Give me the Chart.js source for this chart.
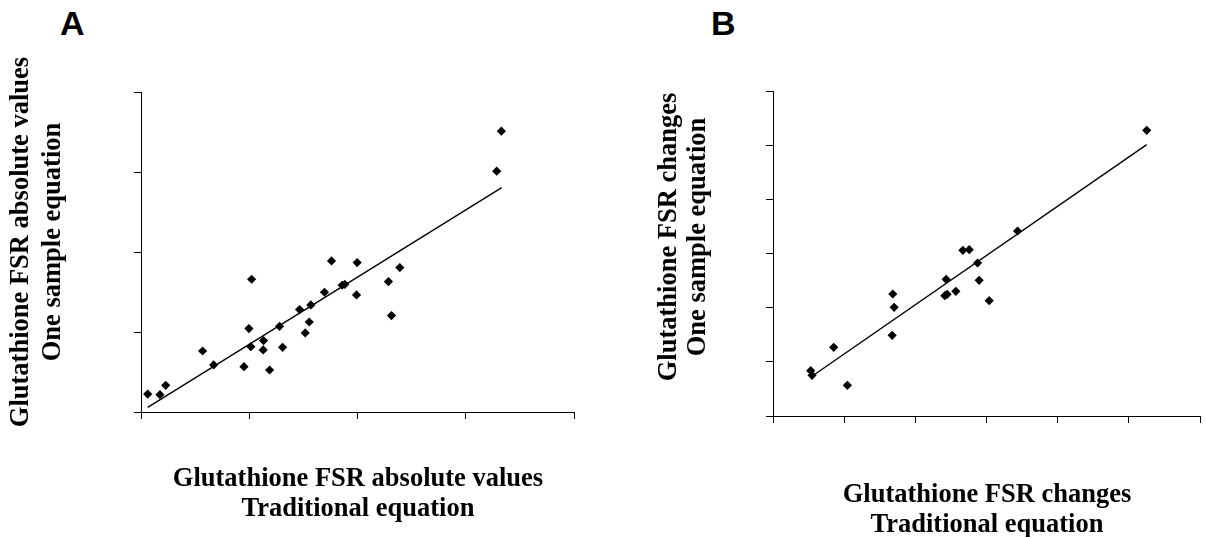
<!DOCTYPE html>
<html>
<head>
<meta charset="utf-8">
<script src="https://cdn.jsdelivr.net/npm/chart.js@4/dist/chart.umd.min.js"></script>
<style>
  body { margin: 0; background: #fff; width: 1206px; height: 537px; position: relative; overflow: hidden; }
  canvas { position: absolute; top: 0; }
  .panel { position: absolute; font-family: "Liberation Sans", Arial, sans-serif; font-weight: bold; font-size: 34px; line-height: 34px; color: #000; }
  .title { position: absolute; font-family: "Liberation Serif", "Times New Roman", serif; font-weight: bold; font-size: 26.5px; color: #000; text-align: center; white-space: nowrap; }
  .ytitle { transform: rotate(-90deg); }
</style>
</head>
<body>
<div class="panel" style="left:60px; top:6px;">A</div>
<div class="panel" style="left:711px; top:6px;">B</div>

<canvas id="chartA" width="600" height="537" style="left:0;"></canvas>
<canvas id="chartB" width="606" height="537" style="left:600px;"></canvas>

<div class="title" style="left:158px; top:463px; width:400px; line-height:29.5px;">Glutathione FSR absolute values<br>Traditional equation</div>
<div class="title ytitle" style="left:-175px; top:210px; width:420px; height:64px; line-height:32px;">Glutathione FSR absolute values<br>One sample equation</div>

<div class="title" style="left:787px; top:478px; width:400px; line-height:30px;">Glutathione FSR changes<br>Traditional equation</div>
<div class="title ytitle" style="left:482px; top:208px; width:400px; height:58px; line-height:29px;">Glutathione FSR changes<br>One sample equation</div>

<script>
// panel A: absolute values
let absTraditional = [0.062, 0.175, 0.228, 0.569, 0.671, 0.951, 0.997, 1.015, 1.022, 1.132, 1.129, 1.188, 1.28, 1.308, 1.465,
    1.517, 1.554, 1.569, 1.695, 1.76, 1.858, 1.883, 1.997, 1.991, 2.286, 2.314, 2.391, 3.286, 3.329];
let absOneSample = [0.225, 0.217, 0.334, 0.764, 0.589, 0.568, 1.044, 0.818, 1.662, 0.894, 0.777, 0.526, 1.073, 0.81, 1.282,
    0.99, 1.127, 1.34, 1.499, 1.891, 1.587, 1.599, 1.871, 1.466, 1.633, 1.207, 1.808, 3.015, 3.516];
let absFitX = [0.062, 3.332];
let absFitY = [0.058, 2.81];
let absTicksX = [0, 1, 2, 3, 4];
let absTicksY = [0, 1, 2, 3, 4];

// panel B: changes
let chgTraditional = [0.53, 0.549, 0.853, 1.045, 1.674, 1.683, 1.702, 2.414, 2.433, 2.447, 2.569, 2.668, 2.757, 2.874, 2.897,
    3.038, 3.436, 5.251];
let chgOneSample = [0.837, 0.751, 1.268, 0.566, 1.489, 2.252, 2.006, 2.222, 2.523, 2.246, 2.302, 3.058, 3.071, 2.825, 2.505,
    2.129, 3.415, 5.274];
let chgFitX = [0.553, 5.251];
let chgFitY = [0.738, 5.009];
let chgTicksX = [0, 1, 2, 3, 4, 5, 6];
let chgTicksY = [0, 1, 2, 3, 4, 5, 6];

const toPoints = (xs, ys) => xs.map((x, i) => ({x: x, y: ys[i]}));

const axis = function (ticks, fit) {
    return {
        type: 'linear',
        min: ticks[0],
        max: ticks[ticks.length - 1],
        ticks: {display: false, stepSize: ticks[1] - ticks[0]},
        grid: {display: true, drawOnChartArea: false, drawTicks: true, tickLength: 7, color: '#000', lineWidth: 1},
        border: {display: true, color: '#000', width: 1},
        afterFit: fit
    };
}

const drawPanel = function (id, xs, ys, fitX, fitY, ticksX, ticksY, area) {
    let chart = document.getElementById(id);
    let ctx = chart.getContext('2d');
    return new Chart(ctx, {
        type: 'scatter',
        data: {
            datasets: [{
                data: toPoints(xs, ys),
                pointStyle: 'rectRot',
                pointRadius: 4.6,
                pointBorderWidth: 0,
                backgroundColor: '#000',
                borderColor: '#000'
            }, {
                type: 'line',
                data: toPoints(fitX, fitY),
                showLine: true,
                pointRadius: 0,
                borderColor: '#000',
                borderWidth: 1.4,
                fill: false
            }]
        },
        options: {
            responsive: false,
            animation: false,
            layout: {padding: {top: area.top, right: chart.width - area.right, left: 0, bottom: 0}},
            plugins: {legend: {display: false}, tooltip: {enabled: false}},
            scales: {
                x: axis(ticksX, s => { s.height = chart.height - area.bottom; }),
                y: axis(ticksY, s => { s.width = area.left; })
            }
        }
    });
}

drawPanel('chartA', absTraditional, absOneSample, absFitX, absFitY, absTicksX, absTicksY,
    {left: 141, right: 574, top: 92.5, bottom: 412});
drawPanel('chartB', chgTraditional, chgOneSample, chgFitX, chgFitY, chgTicksX, chgTicksY,
    {left: 173, right: 600, top: 91, bottom: 416});
</script>
</body>
</html>
